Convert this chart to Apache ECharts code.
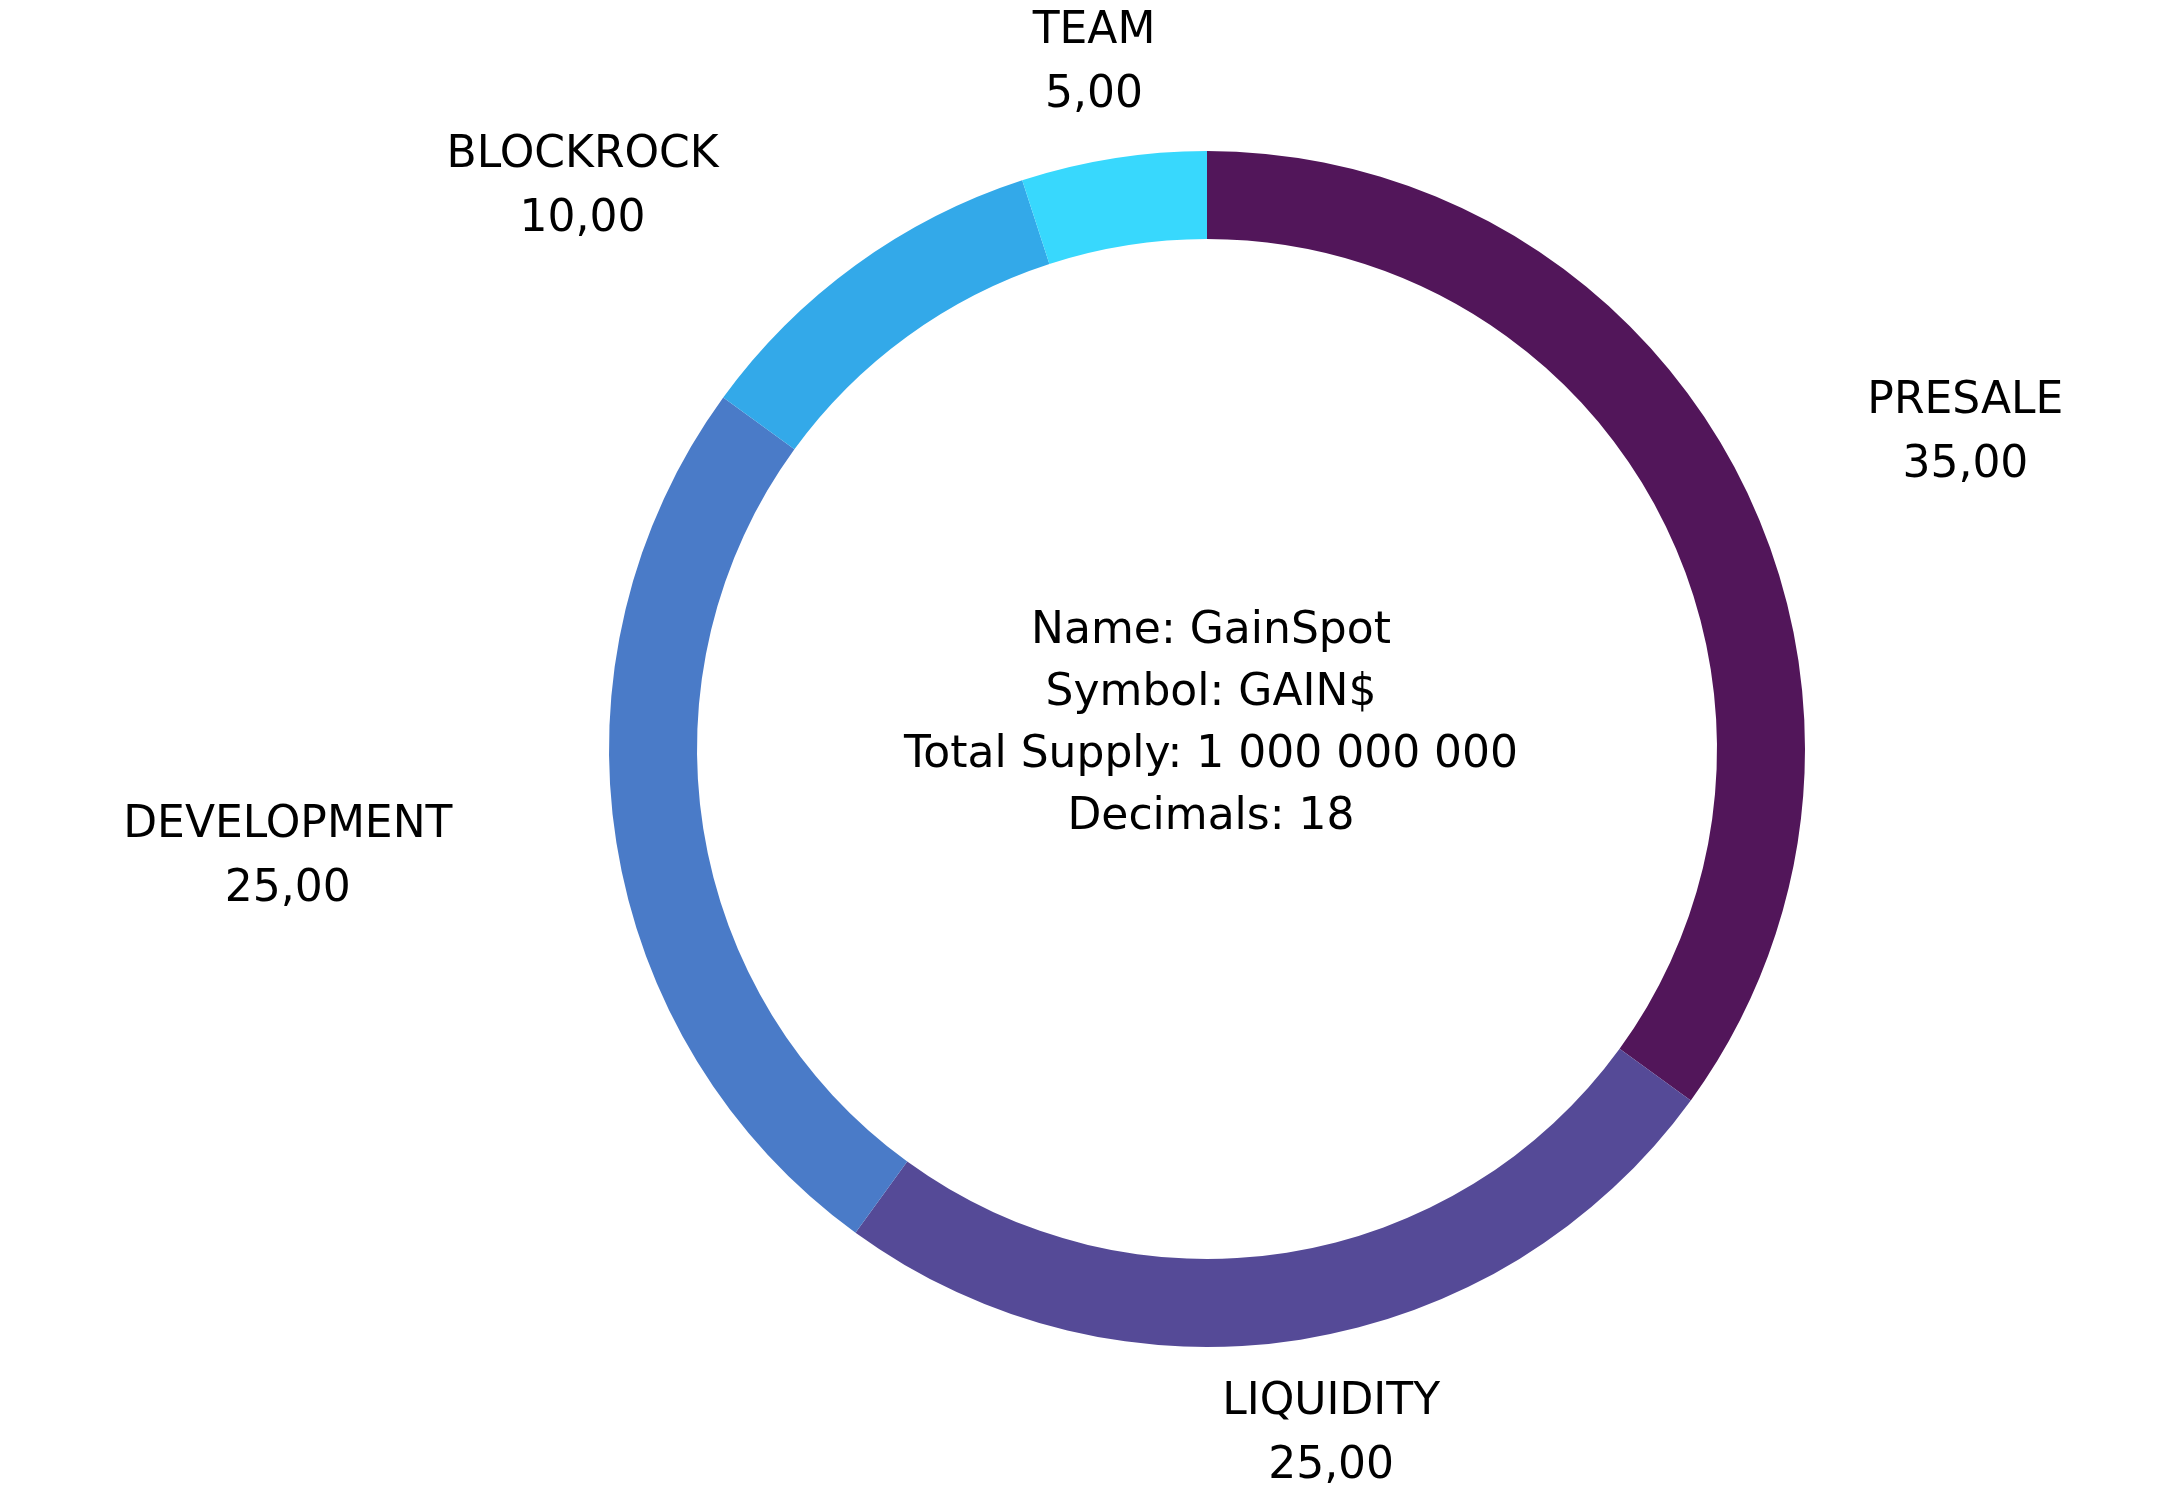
<!DOCTYPE html>
<html>
<head>
<meta charset="utf-8">
<script src="https://cdn.jsdelivr.net/npm/echarts@6/dist/echarts.min.js"></script>
<style>
  html, body { margin: 0; padding: 0; background: #fff; }
  #pieChart { width: 2175px; height: 1491px; }
</style>
</head>
<body>
<div id="pieChart"></div>
<script>
// token distribution
var names = ['PRESALE', 'LIQUIDITY', 'DEVELOPMENT', 'BLOCKROCK', 'TEAM'];
var values = [35, 25, 25, 10, 5];
var colors = ['#52165a', '#554a97', '#4a7bc8', '#33a9e9', '#38d8fd'];
var infoLines = ['Name: GainSpot', 'Symbol: GAIN$', 'Total Supply: 1 000 000 000', 'Decimals: 18'];

var chart = echarts.init(document.getElementById('pieChart'));

var data = names.map(function (n, i) {
    return { name: n, value: values[i], itemStyle: { color: colors[i] } };
});

// put labels just outside the ring, pushed sideways on the left/right
// (the original font is much wider, so the label box is treated as 1.5x)
function placeLabel(params) {
    var lay = chart.getModel().getSeriesByIndex(0).getData().getItemLayout(params.dataIndex);
    var mid = (lay.startAngle + lay.endAngle) / 2;
    var dx = Math.cos(mid), dy = Math.sin(mid);
    var w = params.labelRect.width * 1.5, h = params.labelRect.height;
    var d = lay.r + 32;
    var ex = Math.abs(dx) > 0.5 ? (dx > 0 ? 1 : -1) * (w / 2 + 50) : dx * w / 2;
    return {
        x: lay.cx + dx * d + ex,
        y: lay.cy + dy * d + dy * h / 2,
        align: 'center',
        verticalAlign: 'middle'
    };
}

var option = {
    backgroundColor: '#fff',
    animation: false,
    graphic: [{
        type: 'text',
        x: 1211,
        y: 725,
        style: {
            text: infoLines.join('\n'),
            align: 'center',
            verticalAlign: 'middle',
            fontFamily: 'DejaVu Sans',
            fontSize: 44,
            lineHeight: 62,
            fill: '#000'
        }
    }],
    series: [{
        type: 'pie',
        center: [1207, 749],
        radius: [510, 598],
        startAngle: 90,
        clockwise: true,
        avoidLabelOverlap: false,
        data: data,
        label: {
            show: true,
            position: 'outside',
            formatter: function (p) {
                return p.name + '\n' + p.value.toFixed(2).replace('.', ',');
            },
            fontFamily: 'DejaVu Sans',
            fontSize: 44,
            lineHeight: 64,
            color: '#000'
        },
        labelLine: { show: false },
        labelLayout: placeLabel,
        emphasis: { disabled: true }
    }]
};

chart.setOption(option);
</script>
</body>
</html>
